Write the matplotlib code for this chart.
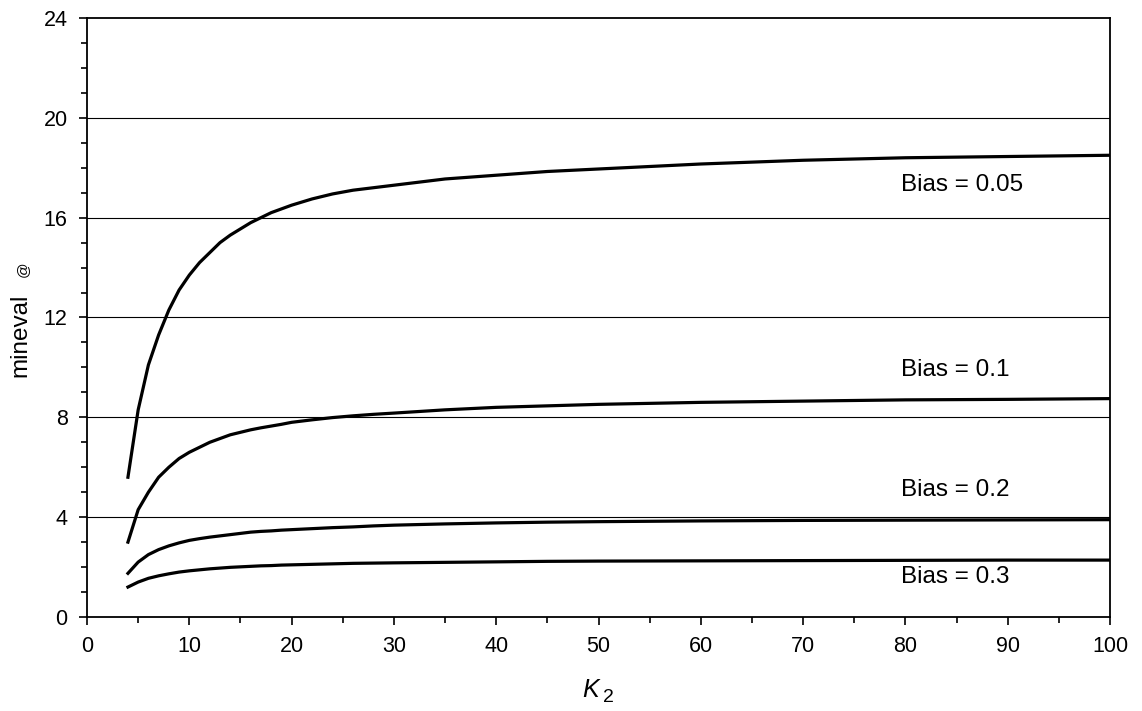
import matplotlib
matplotlib.use('Agg')
import matplotlib.pyplot as plt
from matplotlib.ticker import MultipleLocator

plt.rcParams['font.family'] = ['Liberation Sans', 'DejaVu Sans']

# K_2 values and mineval for each bias
k2 = [4, 5, 6, 7, 8, 9, 10, 11, 12, 13, 14, 15, 16, 17, 18, 19, 20,
      22, 24, 26, 28, 30, 35, 40, 45, 50, 60, 70, 80, 90, 100]
bias_005 = [5.6, 8.3, 10.1, 11.3, 12.3, 13.1, 13.7, 14.2, 14.6, 15.0, 15.3,
            15.55, 15.8, 16.0, 16.2, 16.35, 16.5, 16.75, 16.95, 17.1, 17.2,
            17.3, 17.55, 17.7, 17.85, 17.95, 18.15, 18.3, 18.4, 18.45, 18.5]
bias_01 = [3.0, 4.3, 5.0, 5.6, 6.0, 6.35, 6.6, 6.8, 7.0, 7.15, 7.3, 7.4,
           7.5, 7.58, 7.65, 7.72, 7.8, 7.9, 7.99, 8.06, 8.12, 8.17, 8.3,
           8.4, 8.46, 8.52, 8.6, 8.65, 8.7, 8.72, 8.75]
bias_02 = [1.75, 2.2, 2.5, 2.7, 2.85, 2.97, 3.07, 3.14, 3.2, 3.25, 3.3, 3.35,
           3.4, 3.43, 3.45, 3.48, 3.5, 3.54, 3.58, 3.61, 3.65, 3.68, 3.73,
           3.77, 3.8, 3.82, 3.85, 3.87, 3.88, 3.89, 3.9]
bias_03 = [1.2, 1.4, 1.55, 1.65, 1.73, 1.8, 1.85, 1.89, 1.93, 1.96, 1.99,
           2.01, 2.03, 2.05, 2.06, 2.08, 2.09, 2.11, 2.13, 2.15, 2.16, 2.17,
           2.19, 2.21, 2.23, 2.24, 2.25, 2.26, 2.27, 2.28, 2.28]

series = [bias_005, bias_01, bias_02, bias_03]
labels = ['Bias = 0.05', 'Bias = 0.1', 'Bias = 0.2', 'Bias = 0.3']
label_y = [17.3, 9.9, 5.1, 1.6]

fig = plt.figure(figsize=(11.42, 7.11), dpi=100)
ax = fig.add_axes([0.0762, 0.1322, 0.8958, 0.8425])

for y in [4, 8, 12, 16, 20]:
    ax.axhline(y, color='black', lw=0.8, zorder=1)

for vals in series:
    ax.plot(k2, vals, color='black', lw=2.3, zorder=3)

for lab, ly in zip(labels, label_y):
    ax.text(79.6, ly, lab, fontsize=17.5, va='center', ha='left')

ax.set_xlim(0, 100)
ax.set_ylim(0, 24)
ax.xaxis.set_major_locator(MultipleLocator(10))
ax.xaxis.set_minor_locator(MultipleLocator(5))
ax.yaxis.set_major_locator(MultipleLocator(4))
ax.yaxis.set_minor_locator(MultipleLocator(1))
ax.tick_params(which='major', direction='out', length=6, width=1.2,
               labelsize=15.5, pad=8)
ax.tick_params(which='minor', direction='out', length=4, width=1.2)
for sp in ax.spines.values():
    sp.set_linewidth(1.3)

# axis titles placed by hand (mixed sizes)
fig.text(0.0175, 0.529, 'mineval', fontsize=17.5, rotation=90,
         ha='center', va='center')
fig.text(0.0195, 0.622, '@', fontsize=11, rotation=90, ha='center',
         va='center')
fig.text(582 / 1142, 1 - 697 / 711, 'K', fontsize=18, style='italic',
         ha='left', va='baseline')
fig.text(603 / 1142, 1 - 702 / 711, '2', fontsize=14, ha='left',
         va='baseline')

fig.savefig('out.png', dpi=100)
